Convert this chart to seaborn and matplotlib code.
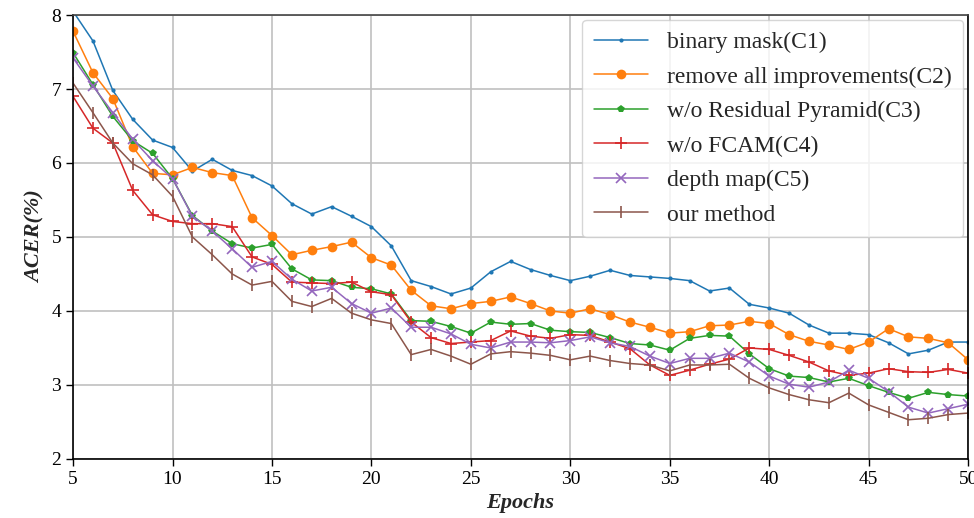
import numpy as np
import pandas as pd
import seaborn as sns
import matplotlib.pyplot as plt

epochs = list(range(5, 51))

binary_mask = [8.05, 7.65, 6.98, 6.59, 6.31, 6.21, 5.89, 6.05, 5.9, 5.83,
               5.69, 5.45, 5.31, 5.41, 5.28, 5.14, 4.88, 4.41, 4.33, 4.23,
               4.31, 4.53, 4.67, 4.56, 4.48, 4.41, 4.47, 4.55, 4.48, 4.46,
               4.44, 4.41, 4.27, 4.31, 4.09, 4.04, 3.97, 3.81, 3.7, 3.7,
               3.68, 3.57, 3.42, 3.47, 3.58, 3.58]
remove_all = [7.78, 7.22, 6.87, 6.22, 5.86, 5.84, 5.94, 5.87, 5.83, 5.26,
              5.02, 4.76, 4.82, 4.87, 4.93, 4.72, 4.62, 4.28, 4.07, 4.03,
              4.1, 4.13, 4.19, 4.1, 4.0, 3.97, 4.03, 3.95, 3.85, 3.78,
              3.7, 3.72, 3.8, 3.81, 3.86, 3.83, 3.68, 3.59, 3.54, 3.48,
              3.58, 3.76, 3.65, 3.63, 3.57, 3.34]
wo_residual = [7.49, 7.06, 6.63, 6.3, 6.13, 5.79, 5.29, 5.08, 4.91, 4.85,
               4.9, 4.57, 4.42, 4.41, 4.32, 4.3, 4.23, 3.87, 3.86, 3.79,
               3.7, 3.85, 3.82, 3.83, 3.74, 3.72, 3.71, 3.64, 3.56, 3.54,
               3.47, 3.63, 3.67, 3.66, 3.42, 3.22, 3.12, 3.1, 3.04, 3.09,
               2.99, 2.9, 2.82, 2.9, 2.87, 2.85]
wo_fcam = [6.9, 6.47, 6.27, 5.63, 5.3, 5.21, 5.18, 5.18, 5.14, 4.73,
           4.63, 4.39, 4.38, 4.37, 4.39, 4.26, 4.22, 3.85, 3.64, 3.56,
           3.58, 3.6, 3.73, 3.66, 3.63, 3.68, 3.67, 3.58, 3.49, 3.27,
           3.13, 3.2, 3.28, 3.35, 3.5, 3.48, 3.4, 3.31, 3.19, 3.13,
           3.16, 3.22, 3.18, 3.17, 3.21, 3.16]
depth_map = [7.42, 7.04, 6.68, 6.32, 6.03, 5.79, 5.28, 5.08, 4.84, 4.59,
             4.67, 4.43, 4.27, 4.32, 4.1, 3.97, 4.04, 3.78, 3.78, 3.69,
             3.55, 3.5, 3.58, 3.58, 3.57, 3.6, 3.65, 3.57, 3.52, 3.39,
             3.29, 3.36, 3.36, 3.43, 3.31, 3.12, 3.01, 2.97, 3.04, 3.2,
             3.09, 2.91, 2.7, 2.62, 2.68, 2.74]
our_method = [7.08, 6.68, 6.27, 5.99, 5.84, 5.55, 5.0, 4.76, 4.5, 4.35,
              4.4, 4.13, 4.06, 4.17, 3.97, 3.88, 3.83, 3.41, 3.48, 3.39,
              3.28, 3.42, 3.45, 3.43, 3.4, 3.34, 3.39, 3.33, 3.29, 3.27,
              3.19, 3.27, 3.27, 3.28, 3.09, 2.96, 2.87, 2.8, 2.76, 2.89,
              2.73, 2.63, 2.53, 2.55, 2.6, 2.62]

labels = ["binary mask(C1)", "remove all improvements(C2)", "w/o Residual Pyramid(C3)",
          "w/o FCAM(C4)", "depth map(C5)", "our method"]
series = [binary_mask, remove_all, wo_residual, wo_fcam, depth_map, our_method]

sns.set_theme(style="whitegrid")
plt.rcParams['font.family'] = ['Liberation Serif', 'DejaVu Serif']

colors = sns.color_palette("tab10", 6)
markers = ['.', 'o', 'p', '+', 'x', '|']
msizes = [6, 7, 5.5, 8, 6.5, 8]

fig = plt.figure(figsize=(9.74, 5.18), dpi=100)
ax = fig.add_axes([0.075, 0.114, 0.919, 0.857])

# una linea por configuracion
for vals, lab, col, mk, ms in zip(series, labels, colors, markers, msizes):
    sns.lineplot(x=epochs, y=vals, ax=ax, color=col, marker=mk, markersize=ms,
                 markeredgecolor=col, markeredgewidth=1.2 if mk in ['+', 'x', '|'] else 0,
                 linewidth=1.1, label=lab)

ax.set_xlim(5, 50)
ax.set_ylim(2, 8)
ax.set_xticks(range(5, 51, 5))
ax.set_yticks(range(2, 9))
ax.grid(True, color='#c0c0c0', linewidth=1.2)
for s in ax.spines.values():
    s.set_color('black')
    s.set_linewidth(1.2)
ax.spines['top'].set_color('#444444')
ax.tick_params(axis='both', which='both', direction='out', length=5, width=1,
               colors='black', labelsize=14, left=True, bottom=True)
ax.set_xlabel('Epochs', fontsize=16, fontweight='bold', fontstyle='italic', labelpad=4)
ax.set_ylabel('ACER(%)', fontsize=16, fontweight='bold', fontstyle='italic')

leg = ax.legend(loc='upper right', fontsize=17, frameon=True, fancybox=True,
                borderpad=0.5, labelspacing=0.55, handlelength=2.3,
                borderaxespad=0.2, bbox_to_anchor=(1.0, 1.0))
leg.get_frame().set_edgecolor('#cccccc')

fig.savefig('out.png', dpi=100)
